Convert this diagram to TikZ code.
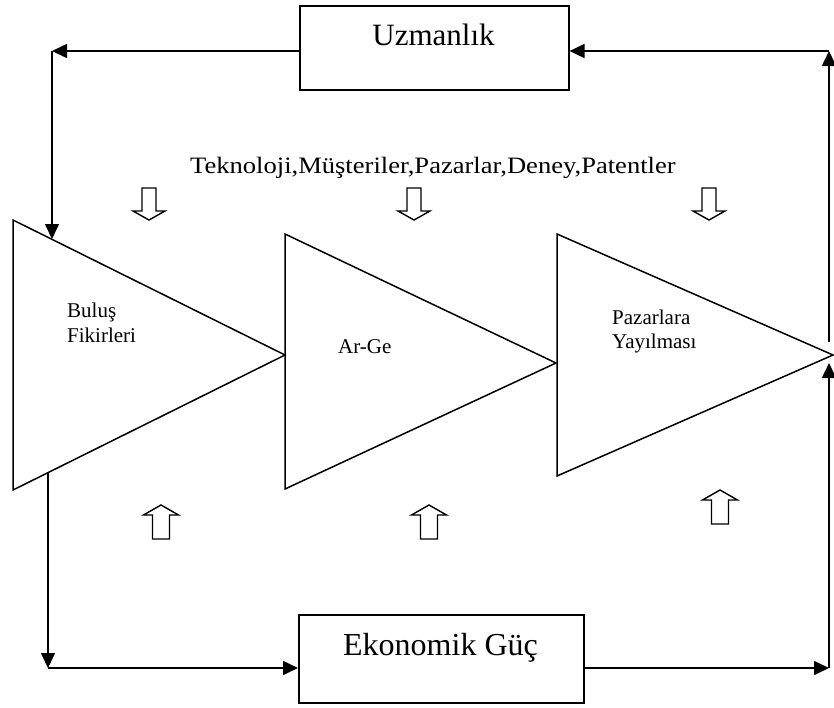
\documentclass[tikz,border=0pt]{standalone}
\usepackage{fontspec}
\setmainfont{Liberation Serif}
\usetikzlibrary{arrows.meta}
\begin{document}
\begin{tikzpicture}[x=1pt,y=-1pt,
  box/.style={draw,line width=1.6pt,inner sep=0pt,anchor=north west},
  tri/.style={draw,line width=1.5pt,line join=miter},
  flow/.style={line width=1.6pt,-{Triangle[length=15pt,width=14pt]}},
  lbl/.style={inner sep=0pt,anchor=base west,font=\fontsize{21}{25}\selectfont},
  big/.style={inner sep=0pt,anchor=base,font=\fontsize{31}{36}\selectfont},
  hollow/.style={draw,line width=1.4pt,fill=white,line join=miter},
  downarrow/.pic={\draw[hollow] (-7,0) -- (7,0) -- (7,23) -- (16,23) -- (0,32) -- (-16,23) -- (-7,23) -- cycle;},
  uparrow/.pic={\draw[hollow] (-8.5,34) -- (8.5,34) -- (8.5,10) -- (17.5,10) -- (0,0) -- (-17.5,10) -- (-8.5,10) -- cycle;}
]
\useasboundingbox (0,0) rectangle (834,707);

% boxes
\node[box,minimum width=269pt,minimum height=84pt] (uz) at (299,5) {};
\node[big] (uztext) at (433.5,45) {Uzmanlık};
\node[box,minimum width=285pt,minimum height=88pt] (ek) at (298,614) {};
\node[big,font=\fontsize{32}{36}\selectfont] (ektext) at (440.5,655) {Ekonomik Güç};

% stage triangles
\coordinate (t1a) at (13,220);  \coordinate (t1b) at (13,490);  \coordinate (t1c) at (285,355);
\coordinate (t2a) at (285,234); \coordinate (t2b) at (285,489); \coordinate (t2c) at (556,363);
\coordinate (t3a) at (557,234); \coordinate (t3b) at (557,476); \coordinate (t3c) at (833,355);
\draw[tri] (t1a) -- (t1c) -- (t1b) -- cycle;
\draw[tri] (t2a) -- (t2c) -- (t2b) -- cycle;
\draw[tri] (t3a) -- (t3c) -- (t3b) -- cycle;

% feedback loop corners and ends
\coordinate (tl) at (52,51);
\coordinate (t1in) at (52,239);
\coordinate (tr) at (829,51);
\coordinate (t3out) at (829,342);
\coordinate (bl) at (48,668);
\coordinate (t1out) at (48,473);
\coordinate (br) at (829,668);
\coordinate (t3in) at (829,363);

\draw[flow] (uz.west |- tl) -- (tl);
\draw[flow] (tl) -- (t1in);
\draw[flow] (t3out) -- (tr);
\draw[flow] (tr) -- (uz.east |- tr);
\draw[flow] (t1out) -- (bl);
\draw[flow] (bl) -- (ek.west |- bl);
\draw[flow] (ek.east |- br) -- (br);
\draw[flow] (br) -- (t3in);

% labels
\node[lbl,font=\fontsize{23.5}{28}\selectfont] (tek) at (190,173) {\scalebox{1.13}[1]{Teknoloji,Müşteriler,Pazarlar,Deney,Patentler}};
\node[lbl] (bul) at (67,317) {Buluş};
\node[lbl] (fik) at (67,342) {Fikirleri};
\node[lbl] (arge) at (338,353) {Ar-Ge};
\node[lbl] (paz) at (612,324) {Pazarlara};
\node[lbl] (yay) at (612,348) {Yayılması};

% input block arrows
\pic at (149,188) {downarrow};
\pic at (414,188) {downarrow};
\pic at (709,188) {downarrow};
\pic at (161,505) {uparrow};
\pic at (429,505) {uparrow};
\pic at (720,490) {uparrow};
\end{tikzpicture}
\end{document}
